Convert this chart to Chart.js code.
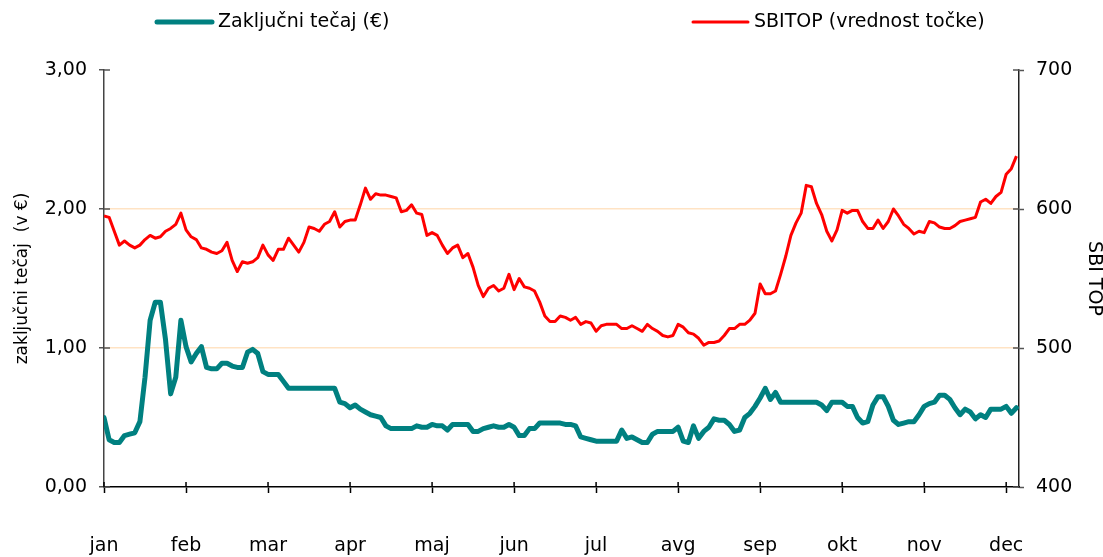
<!DOCTYPE html>
<html>
<head>
<meta charset="utf-8">
<script src="https://cdn.jsdelivr.net/npm/chart.js@4.4.0/dist/chart.umd.min.js"></script>
<style>
  html, body { margin: 0; padding: 0; background: #fff; }
  #wrap { width: 1103px; height: 557px; position: relative; }
</style>
</head>
<body>
<div id="wrap"><canvas id="chart"></canvas></div>
<script>
// --- Data (~16 samples per month) ---
const months = ['jan', 'feb', 'mar', 'apr', 'maj', 'jun', 'jul', 'avg', 'sep', 'okt', 'nov', 'dec'];
const POINTS_PER_MONTH = 16;

const leftTicks = [0, 1, 2, 3];
const rightTicks = [400, 500, 600, 700];

// Zaključni tečaj (€)
const closingPrice = [
    0.50, 0.34, 0.32, 0.32, 0.37, 0.38, 0.39, 0.47, 0.79, 1.20,
    1.33, 1.33, 1.06, 0.67, 0.79, 1.20, 1.01, 0.90, 0.96, 1.01,
    0.86, 0.85, 0.85, 0.89, 0.89, 0.87, 0.86, 0.86, 0.97, 0.99,
    0.96, 0.83, 0.81, 0.81, 0.81, 0.76, 0.71, 0.71, 0.71, 0.71,
    0.71, 0.71, 0.71, 0.71, 0.71, 0.71, 0.61, 0.60, 0.57, 0.59,
    0.56, 0.54, 0.52, 0.51, 0.50, 0.44, 0.42, 0.42, 0.42, 0.42,
    0.42, 0.44, 0.43, 0.43, 0.45, 0.44, 0.44, 0.41, 0.45, 0.45,
    0.45, 0.45, 0.40, 0.40, 0.42, 0.43, 0.44, 0.43, 0.43, 0.45,
    0.43, 0.37, 0.37, 0.42, 0.42, 0.46, 0.46, 0.46, 0.46, 0.46,
    0.45, 0.45, 0.44, 0.36, 0.35, 0.34, 0.33, 0.33, 0.33, 0.33,
    0.33, 0.41, 0.35, 0.36, 0.34, 0.32, 0.32, 0.38, 0.40, 0.40,
    0.40, 0.40, 0.43, 0.33, 0.32, 0.44, 0.35, 0.40, 0.43, 0.49,
    0.48, 0.48, 0.45, 0.40, 0.41, 0.50, 0.53, 0.58, 0.64, 0.71,
    0.63, 0.68, 0.61, 0.61, 0.61, 0.61, 0.61, 0.61, 0.61, 0.61,
    0.59, 0.55, 0.61, 0.61, 0.61, 0.58, 0.58, 0.50, 0.46, 0.47,
    0.59, 0.65, 0.65, 0.58, 0.48, 0.45, 0.46, 0.47, 0.47, 0.52,
    0.58, 0.60, 0.61, 0.66, 0.66, 0.63, 0.57, 0.52, 0.56, 0.54,
    0.49, 0.52, 0.50, 0.56, 0.56, 0.56, 0.58, 0.53, 0.57
];

// SBITOP (vrednost točke)
const sbitop = [
    595, 594, 584, 574, 577, 574, 572, 574, 578, 581,
    579, 580, 584, 586, 589, 597, 585, 580, 578, 572,
    571, 569, 568, 570, 576, 563, 555, 562, 561, 562,
    565, 574, 567, 563, 571, 571, 579, 574, 569, 576,
    587, 586, 584, 589, 591, 598, 587, 591, 592, 592,
    603, 615, 607, 611, 610, 610, 609, 608, 598, 599,
    603, 597, 596, 581, 583, 581, 574, 568, 572, 574,
    565, 568, 558, 545, 537, 543, 545, 541, 543, 553,
    542, 550, 544, 543, 541, 533, 523, 519, 519, 523,
    522, 520, 522, 517, 519, 518, 512, 516, 517, 517,
    517, 514, 514, 516, 514, 512, 517, 514, 512, 509,
    508, 509, 517, 515, 511, 510, 507, 502, 504, 504,
    505, 509, 514, 514, 517, 517, 520, 525, 546, 539,
    539, 541, 553, 566, 581, 590, 597, 617, 616, 604,
    596, 584, 577, 585, 599, 597, 599, 599, 591, 586,
    586, 592, 586, 591, 600, 595, 589, 586, 582, 584,
    583, 591, 590, 587, 586, 586, 588, 591, 592, 593,
    594, 605, 607, 604, 609, 612, 625, 629, 638
];

const dayIndex = closingPrice.map((v, i) => i);

const FONT = 'DejaVu Sans';
const TEAL = '#008080';
const RED = '#FF0000';

// Legend drawn by hand: items sit far apart in the original
const legendLines = {
    id: 'legendLines',
    afterDraw(chart) {
        const ctx = chart.ctx;
        const items = [
            { x: 157, ds: chart.data.datasets[0] },
            { x: 693, ds: chart.data.datasets[1] }
        ];
        ctx.save();
        ctx.font = '19px "' + FONT + '"';
        ctx.textBaseline = 'middle';
        ctx.textAlign = 'left';
        items.forEach(it => {
            ctx.strokeStyle = it.ds.borderColor;
            ctx.lineWidth = it.ds.borderWidth;
            ctx.lineCap = 'round';
            ctx.beginPath();
            ctx.moveTo(it.x, 22);
            ctx.lineTo(it.x + 55, 22);
            ctx.stroke();
            ctx.fillStyle = '#000';
            ctx.fillText(it.ds.label, it.x + 61, 22);
        });
        ctx.restore();
    }
};

// Small tick marks on the inner side of each axis (Excel "cross" ticks)
const innerTicks = {
    id: 'innerTicks',
    afterDatasetsDraw(chart) {
        const ctx = chart.ctx;
        const a = chart.chartArea;
        const sx = chart.scales.x, yl = chart.scales.y, yr = chart.scales.y1;
        ctx.save();
        ctx.lineWidth = 1.5;
        ctx.strokeStyle = '#555';
        ctx.beginPath();
        yl.ticks.forEach(t => {
            const y = yl.getPixelForValue(t.value);
            ctx.moveTo(a.left, y); ctx.lineTo(a.left + 6, y);
        });
        yr.ticks.forEach(t => {
            const y = yr.getPixelForValue(t.value);
            ctx.moveTo(a.right - 6, y); ctx.lineTo(a.right, y);
        });
        ctx.stroke();
        ctx.strokeStyle = '#000';
        ctx.beginPath();
        sx.ticks.forEach(t => {
            const x = sx.getPixelForValue(t.value);
            ctx.moveTo(x, a.bottom); ctx.lineTo(x, a.bottom - 5);
        });
        ctx.stroke();
        ctx.restore();
    }
};

const ctx = document.getElementById('chart').getContext('2d');

new Chart(ctx, {
    type: 'line',
    data: {
        labels: dayIndex,
        datasets: [{
            label: 'Zaključni tečaj (€)',
            data: closingPrice,
            yAxisID: 'y',
            borderColor: TEAL,
            backgroundColor: TEAL,
            borderWidth: 5,
            borderJoinStyle: 'round',
            borderCapStyle: 'round',
            pointRadius: 0,
            tension: 0,
            fill: false
        }, {
            label: 'SBITOP (vrednost točke)',
            data: sbitop,
            yAxisID: 'y1',
            borderColor: RED,
            backgroundColor: RED,
            borderWidth: 3,
            borderJoinStyle: 'round',
            pointRadius: 0,
            tension: 0,
            fill: false
        }]
    },
    options: {
        responsive: true,
        maintainAspectRatio: false,
        animation: false,
        layout: { padding: { top: 70, left: 0, right: 0, bottom: 0 } },
        plugins: {
            legend: { display: false },
            tooltip: { enabled: false }
        },
        scales: {
            x: {
                type: 'linear',
                min: 0,
                max: 178.5,
                afterBuildTicks: (scale) => {
                    scale.ticks = months.map((m, i) => ({ value: i * POINTS_PER_MONTH }));
                },
                afterFit: (scale) => { scale.height = 70; },
                grid: { drawOnChartArea: false, tickLength: 6, tickColor: '#000', tickWidth: 1.5 },
                border: { color: '#000', width: 1.5 },
                ticks: {
                    autoSkip: false,
                    maxRotation: 0,
                    padding: 42,
                    color: '#000',
                    font: { family: FONT, size: 19 },
                    callback: (v, i) => months[i]
                }
            },
            y: {
                position: 'left',
                min: 0,
                max: 3,
                afterBuildTicks: (scale) => {
                    scale.ticks = leftTicks.map(v => ({ value: v }));
                },
                afterFit: (scale) => { scale.width = 104; },
                grid: {
                    color: (c) => (c.tick && c.tick.value > 0 && c.tick.value < 3) ? '#FFE3C4' : 'rgba(0,0,0,0)',
                    lineWidth: 1.5,
                    tickColor: '#555',
                    tickLength: 5,
                    tickWidth: 1.5
                },
                border: { color: '#444', width: 1.5 },
                ticks: {
                    padding: 12,
                    color: '#000',
                    font: { family: FONT, size: 19 },
                    callback: (v) => v.toFixed(2).replace('.', ',')
                },
                title: {
                    display: true,
                    text: 'zaključni tečaj  (v €)',
                    color: '#000',
                    font: { family: FONT, size: 17, lineHeight: 1 },
                    padding: { top: 14, bottom: 0 }
                }
            },
            y1: {
                position: 'right',
                min: 400,
                max: 700,
                afterBuildTicks: (scale) => {
                    scale.ticks = rightTicks.map(v => ({ value: v }));
                },
                afterFit: (scale) => { scale.width = 84; },
                grid: { drawOnChartArea: false, tickColor: '#555', tickLength: 5, tickWidth: 1.5 },
                border: { color: '#222', width: 1.5 },
                ticks: {
                    padding: 12,
                    color: '#000',
                    font: { family: FONT, size: 19 }
                },
                title: {
                    display: true,
                    text: 'SBI TOP',
                    color: '#000',
                    font: { family: FONT, size: 19, lineHeight: 1 },
                    padding: { top: 0, bottom: 0 }
                }
            }
        }
    },
    plugins: [legendLines, innerTicks]
});
</script>
</body>
</html>
